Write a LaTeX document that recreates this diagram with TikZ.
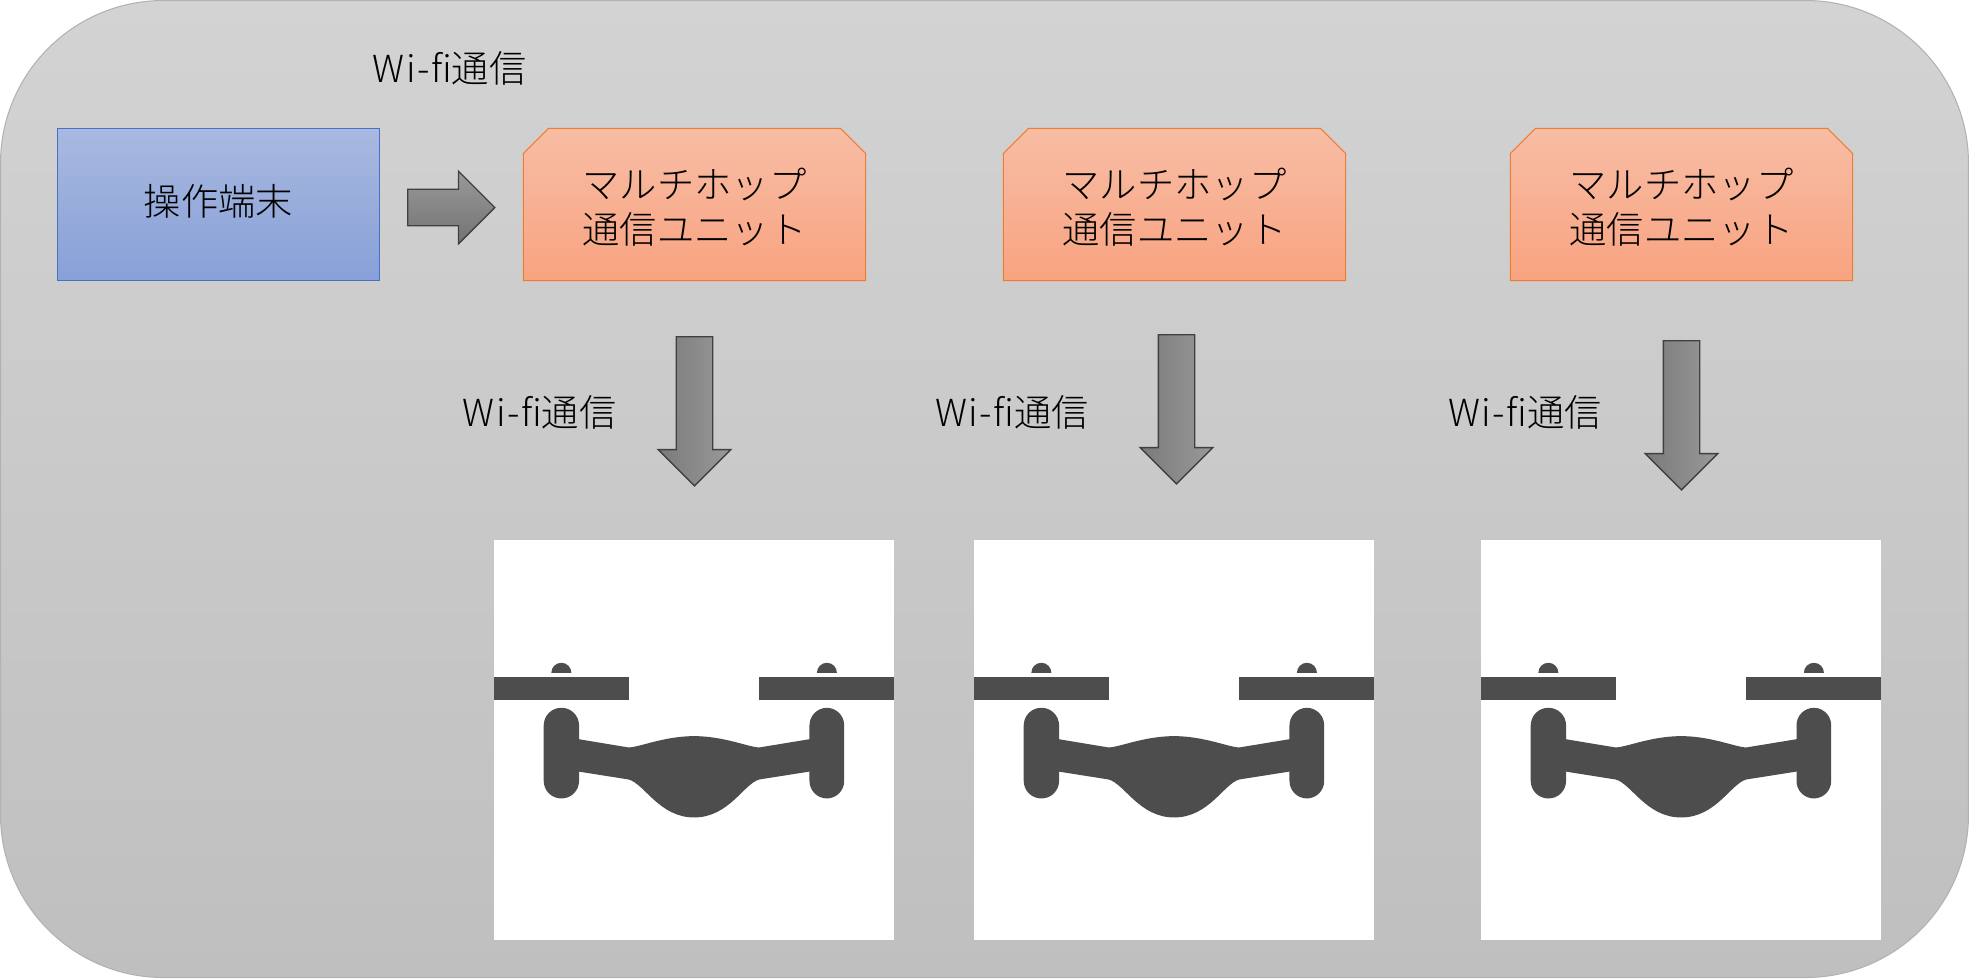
\documentclass[tikz,border=0pt]{standalone}
\usepackage{fontspec}
\setmainfont{Noto Sans CJK JP}[UprightFont=* Light]
\usetikzlibrary{shapes.arrows,shapes.misc}
\definecolor{panelTop}{HTML}{D3D3D3}
\definecolor{panelBottom}{HTML}{BFBFBF}
\definecolor{droneGray}{HTML}{4D4D4D}
\definecolor{termLine}{HTML}{4472C4}
\definecolor{termTop}{HTML}{A9B9E0}
\definecolor{termBottom}{HTML}{87A0D8}
\definecolor{unitLine}{HTML}{ED7D31}
\definecolor{unitTop}{HTML}{F8BDA5}
\definecolor{unitBottom}{HTML}{F8A380}
\newcommand{\wifilabel}{{\addfontfeature{LetterSpace=4}Wi-fi}通信}
\tikzset{
  label text/.style={font=\fontsize{10.6pt}{12.8pt}\selectfont, text=black, align=center, inner sep=0pt},
  terminal box/.style={draw=termLine, line width=0.3pt, top color=termTop, bottom color=termBottom, minimum width=3.225cm, minimum height=1.52cm, text height=0.25cm, text depth=0.04cm},
  unit box/.style={chamfered rectangle, chamfered rectangle corners={north west,north east}, chamfered rectangle xsep=0.125cm, chamfered rectangle ysep=0.125cm, draw=unitLine, line width=0.3pt, top color=unitTop, bottom color=unitBottom, minimum width=3.42cm, minimum height=1.52cm, text height=0.827cm, text depth=0.045cm},
  block arrow/.style={single arrow, anchor=tail, draw=black!75, line width=0.4pt, inner sep=0.175cm, minimum width=0.7cm, single arrow head extend=0.18cm},
  right arrow/.style={block arrow, shape border rotate=0, minimum height=0.87cm, top color=black!40, bottom color=black!55},
  down arrow/.style={block arrow, shape border rotate=270, minimum height=1.49cm, left color=black!52, right color=black!40},
  drone/.pic={
    \begin{scope}[x=1cm, y=1cm]
    % Backing square
    \fill[white] (0,0) rectangle (4,-4);
    % Rotors
    \fill[droneGray] (0,-1.373) rectangle (1.347,-1.603);
    \fill[droneGray] (2.653,-1.373) rectangle (4,-1.603);
    \fill[droneGray] (0.573,-1.327) arc (180:0:0.1) -- cycle;
    \fill[droneGray] (3.227,-1.327) arc (180:0:0.1) -- cycle;
    % Legs
    \fill[droneGray, rounded corners=0.175cm] (0.497,-1.677) rectangle (0.85,-2.583);
    \fill[droneGray, rounded corners=0.175cm] (3.153,-1.677) rectangle (3.5,-2.583);
    % Body
    \fill[droneGray] (0.8,-1.983) -- (1.343,-2.073) .. controls (1.45,-2.073) and (1.7,-1.96) .. (2,-1.96)
      .. controls (2.3,-1.96) and (2.55,-2.073) .. (2.653,-2.073) -- (3.2,-1.983) -- (3.2,-2.307) -- (2.653,-2.393)
      .. controls (2.5,-2.43) and (2.35,-2.773) .. (2,-2.773) .. controls (1.65,-2.773) and (1.5,-2.43) .. (1.343,-2.393)
      -- (0.8,-2.307) -- cycle;
    \end{scope}
  }
}
\begin{document}
\begin{tikzpicture}[x=0.01cm, y=-0.01cm]
  \useasboundingbox (0,0) rectangle (1969,978);
  % Panel
  \draw[black!30, line width=0.3pt, top color=panelTop, bottom color=panelBottom, rounded corners=1.63cm] (0.5,0.5) rectangle (1968.5,977.5);

  % Terminal and units
  \node[terminal box, label text] (terminal) at (218.5,204.5) {操作端末};
  \node[unit box, label text] (unitA) at (694.5,204.5) {マルチホップ\\通信ユニット};
  \node[unit box, label text] (unitB) at (1174.5,204.5) {マルチホップ\\通信ユニット};
  \node[unit box, label text] (unitC) at (1681.5,204.5) {マルチホップ\\通信ユニット};

  % Arrows
  \node[right arrow] (linkTop) at (407,207.5) {};
  \node[down arrow] (linkA) at (694.5,336) {};
  \node[down arrow] (linkB) at (1176.5,334) {};
  \node[down arrow] (linkC) at (1681.5,340) {};

  % Labels
  \node[label text] (labelTop) at (449.5,68) {\wifilabel};
  \node[label text] (labelA) at (539.5,412) {\wifilabel};
  \node[label text] (labelB) at (1012,412) {\wifilabel};
  \node[label text] (labelC) at (1525,412) {\wifilabel};

  % Drones
  \pic at (494,540) {drone};
  \pic at (974,540) {drone};
  \pic at (1481,540) {drone};
\end{tikzpicture}
\end{document}
